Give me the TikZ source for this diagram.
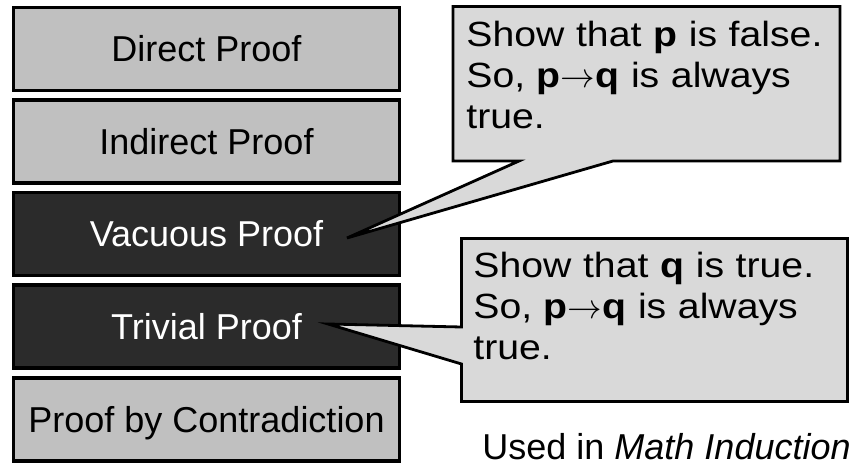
\documentclass[tikz,border=0pt]{standalone}
\usepackage{fontspec}
\setmainfont{Liberation Sans}
\newfontfamily\notefont[FakeStretch=1.12]{Liberation Sans}
\usepackage{xcolor}
\usepackage{tikz}

\definecolor{boxgray}{HTML}{C0C0C0}
\definecolor{boxdark}{HTML}{2B2B2B}
\definecolor{notegray}{HTML}{D9D9D9}

\tikzset{
  proofbox/.style={draw=black, line width=1.6pt, fill=boxgray, inner sep=0pt,
    minimum width=193pt, minimum height=41.5pt, text height=12.6pt, text depth=0pt,
    font=\fontsize{18}{20}\selectfont},
  darkbox/.style={proofbox, fill=boxdark, text=white},
  note/.style={draw=black, line width=1.4pt, fill=notegray, line join=miter},
  notetext/.style={anchor=base west, inner sep=0pt, text width=186pt, align=left,
    font=\notefont\fontsize{17.5}{20.5}\selectfont}
}

\begin{document}
\begin{tikzpicture}[x=0.5pt,y=-0.5pt]
    \useasboundingbox (0,0) rectangle (854,469);
      \node[proofbox] (D) at (206.5,49) {Direct Proof};
      \node[proofbox] (I) at (206.5,141.5) {Indirect Proof};
      \node[darkbox] (V) at (206.5,234) {Vacuous Proof};
      \node[darkbox] (T) at (206.5,326.5) {Trivial Proof};
      \node[proofbox] (C) at (206.5,419.5) {Proof by Contradiction};
        % Comments
      \coordinate (vtip) at (347,238);
      \coordinate (ttip) at (328,324);
    \draw[note] (453,6.5) -- (840,6.5) -- (840,161) -- (613,161) -- (vtip) -- (519,161) -- (453,161) -- cycle;
    \draw[note] (461.5,238.5) -- (847.5,238.5) -- (847.5,401.5) -- (461.5,401.5) -- (461.5,364) -- (ttip) -- (461.5,327) -- cycle;
     \node[notetext] (N1) at (466,47) {Show that \textbf{p} is false.\\So, \textbf{p}$\rightarrow$\textbf{q} is always\\true.};
     \node[notetext] (N2) at (473,278) {Show that \textbf{q} is true.\\So, \textbf{p}$\rightarrow$\textbf{q} is always\\true.};
     \node[anchor=base west,inner sep=0pt,font=\fontsize{18}{20}\selectfont] (U) at (482,459) {Used in \textit{Math Induction}};
    \end{tikzpicture}
\end{document}
